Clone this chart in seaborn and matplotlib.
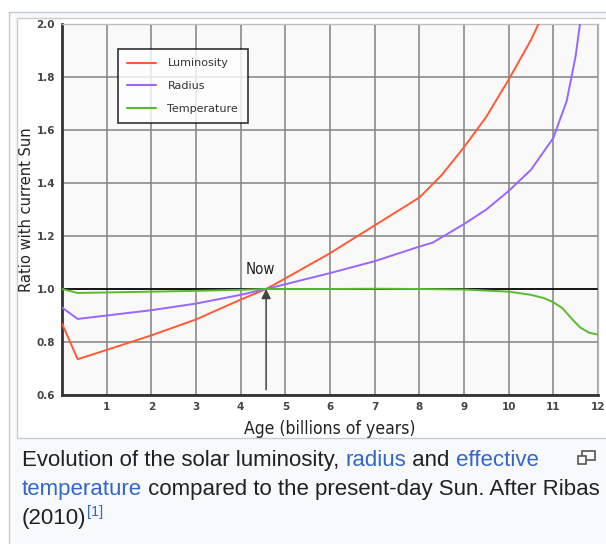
import numpy as np
import pandas as pd
import seaborn as sns
import matplotlib
matplotlib.use("Agg")
import matplotlib.pyplot as plt
from matplotlib.patches import Rectangle
from matplotlib.lines import Line2D

# Solar evolution relative to the present-day Sun (after Ribas 2010)
lum_age = [0, 0.35, 1, 2, 3, 4, 4.57, 5, 6, 7, 8, 8.5, 9, 9.5, 10, 10.5, 10.75]
lum_val = [0.87, 0.735, 0.77, 0.825, 0.885, 0.96, 1.0, 1.04, 1.135, 1.24, 1.345, 1.43, 1.535, 1.65, 1.79, 1.94, 2.03]

rad_age = [0, 0.35, 1, 2, 3, 4, 4.57, 5, 6, 7, 8, 8.3, 9, 9.5, 10, 10.5, 11, 11.3, 11.5, 11.62]
rad_val = [0.93, 0.887, 0.90, 0.92, 0.945, 0.978, 1.0, 1.018, 1.06, 1.105, 1.16, 1.175, 1.245, 1.30, 1.37, 1.45, 1.57, 1.71, 1.88, 2.03]

tmp_age = [0, 0.35, 1, 2, 3, 4, 4.57, 5, 6, 7, 8, 9, 9.5, 10, 10.5, 10.8, 11, 11.2, 11.4, 11.6, 11.8, 12]
tmp_val = [1.0, 0.985, 0.987, 0.99, 0.993, 0.997, 1.0, 1.0, 1.0, 1.001, 1.0, 0.998, 0.994, 0.99, 0.978, 0.965, 0.95, 0.928, 0.89, 0.855, 0.835, 0.828]

series_names = ["Luminosity", "Radius", "Temperature"]
series_colors = ["#ff5a33", "#9966ff", "#5cb82e"]

x_ticks = list(range(1, 13))
y_ticks = [0.6, 0.8, 1.0, 1.2, 1.4, 1.6, 1.8, 2.0]

now_age = 4.57

df = pd.concat([
    pd.DataFrame({"age": lum_age, "ratio": lum_val, "quantity": "Luminosity"}),
    pd.DataFrame({"age": rad_age, "ratio": rad_val, "quantity": "Radius"}),
    pd.DataFrame({"age": tmp_age, "ratio": tmp_val, "quantity": "Temperature"}),
], ignore_index=True)

sns.set_theme(style="white")
plt.rcParams["font.family"] = ["DejaVu Sans"]

W, H = 606, 544
fig = plt.figure(figsize=(W / 100, H / 100), dpi=100)
fig.patch.set_facecolor("white")


def px_rect(x0, y0, x1, y1, **kw):
    """Rectangle given in pixel coordinates (origin top-left)."""
    r = Rectangle((x0 / W, 1 - y1 / H), (x1 - x0) / W, (y1 - y0) / H,
                  transform=fig.transFigure, **kw)
    fig.add_artist(r)
    return r


# thumbnail frame and caption panel
px_rect(8.5, 11.5, 620, 560, facecolor="#f8f9fa", edgecolor="#c8ccd1", lw=1, zorder=0)
px_rect(16.5, 17.5, 620, 438, facecolor="white", edgecolor="#c8ccd1", lw=1, zorder=0)

ax_l, ax_r, ax_t, ax_b = 62, 598, 24, 395
ax = fig.add_axes([ax_l / W, 1 - ax_b / H, (ax_r - ax_l) / W, (ax_b - ax_t) / H])
ax.set_facecolor("#f9f9f9")

ax.axhline(1.0, color="black", lw=1.2, zorder=2)

sns.lineplot(data=df, x="age", y="ratio", hue="quantity", hue_order=series_names,
             palette=series_colors, estimator=None, sort=False, lw=1.4,
             legend=False, ax=ax, zorder=3)

ax.set_xlim(0, 12)
ax.set_ylim(0.6, 2.0)
ax.set_xticks(x_ticks)
ax.set_yticks(y_ticks)
ax.set_yticklabels([f"{v:.1f}" for v in y_ticks])
ax.grid(True, color="#868686", lw=1.15)
ax.set_axisbelow(True)
ax.tick_params(axis="both", length=0, labelsize=7.5, labelcolor="#444444", pad=5)
for lab in ax.get_xticklabels() + ax.get_yticklabels():
    lab.set_fontweight("bold")

for side in ["left", "bottom"]:
    ax.spines[side].set_color("#333333")
    ax.spines[side].set_linewidth(2)
for side in ["top", "right"]:
    ax.spines[side].set_color("#bdbdbd")
    ax.spines[side].set_linewidth(1)

label_font = dict(family="DejaVu Sans", fontstretch="condensed", color="#222222")
ax.set_xlabel("Age (billions of years)", fontsize=12.6, labelpad=6, **label_font)
ax.set_ylabel("Ratio with current Sun", fontsize=11.8, labelpad=2, **label_font)

# "Now" marker
ax.annotate("", xy=(now_age, 1.0), xytext=(now_age, 0.62),
            arrowprops=dict(arrowstyle="-|>", color="#444444", lw=1.1,
                            mutation_scale=14, shrinkA=0, shrinkB=0), zorder=4)
ax.text(4.45, 1.075, "Now", fontsize=10.8, ha="center", va="center", **label_font)

handles = [Line2D([0], [0], color=c, lw=1.5) for c in series_colors]
leg = ax.legend(handles, series_names, loc="upper left",
                bbox_to_anchor=((118 - ax_l) / (ax_r - ax_l), 1 - (49 - ax_t) / (ax_b - ax_t)),
                frameon=True, fancybox=False, fontsize=8, handlelength=2.6,
                handletextpad=1.0, labelspacing=1.15, borderpad=0.85, borderaxespad=0)
leg.get_frame().set_edgecolor("black")
leg.get_frame().set_linewidth(1.2)
leg.get_frame().set_facecolor("white")
for t in leg.get_texts():
    t.set_color("#333333")

# caption beneath the figure
dark, link = "#202122", "#3366cc"
cap_font = dict(family=["Liberation Sans", "DejaVu Sans"], fontsize=16)


def place_line(x_px, y_px, parts):
    return [fig.text(x_px / W, 1 - y_px / H, txt, color=col, va="baseline", **cap_font)
            for txt, col in parts]


line1 = place_line(22, 466, [("Evolution of the solar luminosity, ", dark),
                             ("radius", link), (" and ", dark), ("effective", link)])
line2 = place_line(22, 495, [("temperature", link),
                             (" compared to the present-day Sun. After Ribas", dark)])
line3 = place_line(22, 524, [("(2010)", dark)])

# lay the coloured pieces of each caption line end to end
fig.canvas.draw()
renderer = fig.canvas.get_renderer()
for texts in (line1, line2, line3):
    x = texts[0].get_window_extent(renderer).x0
    for t in texts:
        bb = t.get_window_extent(renderer)
        t.set_x(x / fig.bbox.width)
        x += bb.width

end3 = line3[-1].get_window_extent(renderer).x1
fig.text(end3 / fig.bbox.width, 1 - 516 / H, "[1]", color=link, va="baseline",
         family=["Liberation Sans", "DejaVu Sans"], fontsize=10.5)

# enlarge icon at the right of the caption
px_rect(581.5, 450.5, 594.5, 459.5, facecolor="none", edgecolor="#555555", lw=1.2, zorder=5)
px_rect(577.5, 455.5, 585.5, 463.5, facecolor="#f8f9fa", edgecolor="#555555", lw=1.2, zorder=6)

fig.savefig("out.png", dpi=100, facecolor=fig.get_facecolor())
